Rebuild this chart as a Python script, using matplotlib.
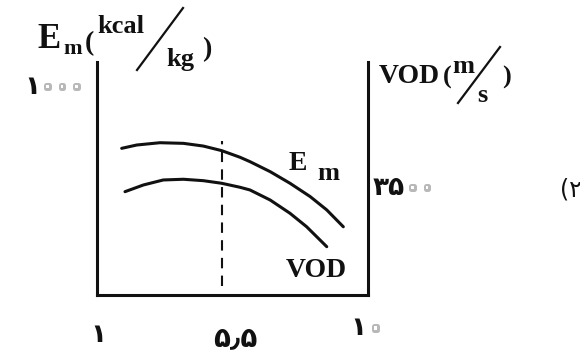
import matplotlib
matplotlib.use("Agg")
import matplotlib.pyplot as plt
import matplotlib.patheffects as pe
from matplotlib.lines import Line2D

W, H, DPI = 580, 360, 100
INK = "#111111"; ZERO = "#b8b8b8"
SERIF = "Liberation Serif"; DIG = "DejaVu Sans"

# schematic curves (x: 1..10, Em in kcal/kg, VOD in m/s)
em_x = [1.82, 2.32, 3.09, 3.87, 4.53, 5.14, 5.75, 6.08, 6.75, 7.41, 8.08, 8.63, 9.18]
em_y = [705, 721, 732, 729, 716, 694, 662, 641, 593, 537, 473, 409, 328]
vod_x = [1.93, 2.54, 3.20, 3.87, 4.53, 5.14, 5.75, 6.08, 6.75, 7.41, 7.96, 8.63]
vod_y = [3379, 3598, 3762, 3785, 3739, 3654, 3523, 3435, 3107, 2672, 2234, 1580]
opt_x = 5.15
x_ticks = [1, 5.5, 10]
x_labels = ["\u06f1", "\u06f5\u066b\u06f5", "\u06f1\u06f0"]
em_tick, vod_tick = 1000, 3500

fig = plt.figure(figsize=(W / DPI, H / DPI), dpi=DPI)
ax = fig.add_axes([97 / W, 65 / H, 271 / W, 233 / H])
ax2 = ax.twinx()

ax.plot(em_x, em_y, color=INK, lw=2.2, solid_capstyle="round", solid_joinstyle="round")
ax2.plot(vod_x, vod_y, color=INK, lw=2.2, solid_capstyle="round", solid_joinstyle="round")
ax.axvline(opt_x, ymin=0.04, ymax=0.66, color=INK, lw=1.5, ls=(0, (5, 3.5)))

ax.set_xlim(1, 10); ax.set_ylim(0, 1120); ax2.set_ylim(0, 7620)
for a in (ax, ax2):
    a.set_xticks([]); a.set_yticks([])
ax.spines["top"].set_visible(False)
for sp in ax2.spines.values():
    sp.set_visible(False)
for sp in ["left", "bottom", "right"]:
    ax.spines[sp].set_linewidth(2.2); ax.spines[sp].set_color(INK)

def T(px, py, s, size, **kw):
    kw.setdefault("family", SERIF); kw.setdefault("weight", "bold")
    return fig.text(px / W, 1 - py / H, s, fontsize=size, color=INK, **kw)

# left axis title  E_m (kcal / kg)
T(37, 48, "E", 25, ha="left", va="baseline")
T(63, 54, "m", 16, ha="left", va="baseline")
T(85, 50, "(", 20, ha="left", va="baseline")
T(97, 33, "kcal", 19, ha="left", va="baseline")
T(166, 66, "kg", 19, ha="left", va="baseline")
T(202, 56, ")", 20, ha="left", va="baseline")
fig.add_artist(Line2D([137 / W, 183 / W], [1 - 70 / H, 1 - 8 / H], color=INK, lw=1.6))

# right axis title  VOD (m / s)
T(379, 83, "VOD", 20, ha="left", va="baseline")
T(443, 84, "(", 19, ha="left", va="baseline")
T(452, 73, "m", 19, ha="left", va="baseline")
T(477, 102, "s", 19, ha="left", va="baseline")
T(502, 84, ")", 19, ha="left", va="baseline")
fig.add_artist(Line2D([458 / W, 500 / W], [1 - 103 / H, 1 - 47 / H], color=INK, lw=1.6))

# curve labels
T(289, 170, "E", 20, ha="left", va="baseline")
T(317, 180, "m", 19, ha="left", va="baseline")
T(286, 277, "VOD", 20, ha="left", va="baseline")

# figure number (cut at the edge, as in the source)
T(560, 190, "(\u06f2", 17, ha="left", va="center", family=DIG, weight="normal")

# grey zeros drawn as hollow rings
RING = dict(fontsize=19, color="white", family=DIG,
            path_effects=[pe.Stroke(linewidth=3.6, foreground=ZERO), pe.Normal()])
BIG = dict(fontsize=19, color=INK, family=DIG, weight="bold")

yt = ax.get_yaxis_transform()
z = ax.annotate("\u06f0\u06f0\u06f0", xy=(0, em_tick), xycoords=yt, xytext=(-10, 0),
                textcoords="offset points", ha="right", va="center", **RING)
ax.annotate("\u06f1", xy=(0, 0.5), xycoords=z, xytext=(0, 0), textcoords="offset points",
            ha="right", va="center", **BIG)
yt2 = ax2.get_yaxis_transform()
d = ax2.annotate("\u06f3\u06f5", xy=(1, vod_tick), xycoords=yt2, xytext=(3, 0),
                 textcoords="offset points", ha="left", va="center", **BIG)
ax2.annotate("\u06f0\u06f0", xy=(1, 0.5), xycoords=d, xytext=(1, 0), textcoords="offset points",
             ha="left", va="center", **RING)

# x tick labels
xt = ax.get_xaxis_transform()
dy = [-29, -31, -24]
for x, lab, off in zip(x_ticks, x_labels, dy):
    if lab.endswith("\u06f0"):
        one = ax.annotate(lab[:-1], xy=(x, 0), xycoords=xt, xytext=(-1, off),
                          textcoords="offset points", ha="right", va="center", **BIG)
        ax.annotate(lab[-1], xy=(1, 0.5), xycoords=one, xytext=(1, 0),
                    textcoords="offset points", ha="left", va="center", **RING)
    else:
        ax.annotate(lab, xy=(x, 0), xycoords=xt, xytext=(1 if x == 1 else 2, off),
                    textcoords="offset points", ha="center", va="center",
                    **dict(BIG, fontsize=20 if len(lab) > 1 else 19))

fig.savefig("out.png", dpi=DPI, facecolor="white")
